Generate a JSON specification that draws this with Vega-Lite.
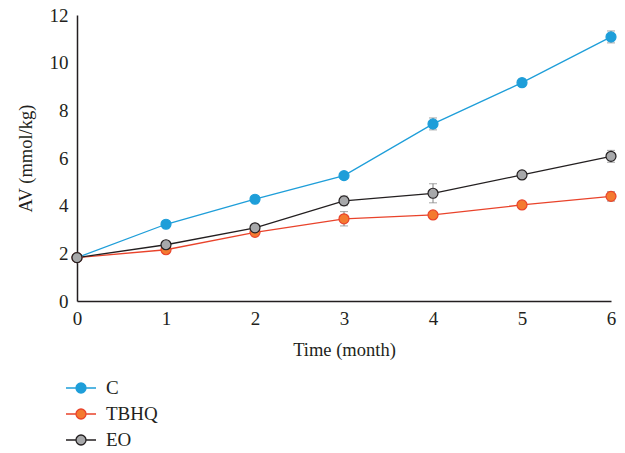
{
  "$schema": "https://vega.github.io/schema/vega-lite/v6.json",
  "width": 534,
  "height": 286,
  "autosize": {"type": "none"},
  "padding": {"left": 77, "top": 15, "right": 14, "bottom": 152},
  "background": "white",
  "config": {
    "view": {"stroke": null},
    "font": "Liberation Serif",
    "axis": {"labelFont": "Liberation Serif", "titleFont": "Liberation Serif", "labelColor": "#231f20", "titleColor": "#231f20", "titleFontWeight": "normal", "domainColor": "#231f20", "domainWidth": 1.5, "grid": false, "ticks": false, "labelFontSize": 19, "titleFontSize": 18.5, "labelFlush": false},
    "legend": {"labelFont": "Liberation Serif", "labelFontSize": 19, "labelColor": "#231f20", "orient": "none", "legendX": -7, "legendY": 362, "padding": 0, "symbolSize": 400, "symbolStrokeWidth": 1.3, "symbolType": "M-1.5,0L-0.5,0M0.5,0L1.5,0M-0.5,0A0.5,0.5 0 1,1 0.5,0A0.5,0.5 0 1,1 -0.5,0Z", "labelOffset": 14, "rowPadding": 5}
  },
  "data": {
    "values": [
      {"month": 0, "series": "C", "av": 1.82, "err": 0.05},
      {"month": 1, "series": "C", "av": 3.22, "err": 0.08},
      {"month": 2, "series": "C", "av": 4.27, "err": 0.08},
      {"month": 3, "series": "C", "av": 5.26, "err": 0.1},
      {"month": 4, "series": "C", "av": 7.43, "err": 0.25},
      {"month": 5, "series": "C", "av": 9.16, "err": 0.15},
      {"month": 6, "series": "C", "av": 11.08, "err": 0.25},
      {"month": 0, "series": "TBHQ", "av": 1.82, "err": 0.05},
      {"month": 1, "series": "TBHQ", "av": 2.15, "err": 0.08},
      {"month": 2, "series": "TBHQ", "av": 2.88, "err": 0.08},
      {"month": 3, "series": "TBHQ", "av": 3.45, "err": 0.3},
      {"month": 4, "series": "TBHQ", "av": 3.61, "err": 0.1},
      {"month": 5, "series": "TBHQ", "av": 4.03, "err": 0.15},
      {"month": 6, "series": "TBHQ", "av": 4.39, "err": 0.2},
      {"month": 0, "series": "EO", "av": 1.82, "err": 0.05},
      {"month": 1, "series": "EO", "av": 2.36, "err": 0.08},
      {"month": 2, "series": "EO", "av": 3.07, "err": 0.08},
      {"month": 3, "series": "EO", "av": 4.2, "err": 0.2},
      {"month": 4, "series": "EO", "av": 4.52, "err": 0.4},
      {"month": 5, "series": "EO", "av": 5.29, "err": 0.1},
      {"month": 6, "series": "EO", "av": 6.07, "err": 0.25}
    ]
  },
  "encoding": {
    "x": {"field": "month", "type": "quantitative", "title": "Time (month)", "scale": {"domain": [0, 6], "nice": false}, "axis": {"values": [0, 1, 2, 3, 4, 5, 6], "labelPadding": 8, "titlePadding": 12}},
    "y": {"field": "av", "type": "quantitative", "title": "AV (mmol/kg)", "scale": {"domain": [0, 12], "nice": false}, "axis": {"values": [0, 2, 4, 6, 8, 10, 12], "labelPadding": 9, "titlePadding": 14}}
  },
  "layer": [
    {
      "mark": {"type": "line", "strokeWidth": 1.3},
      "encoding": {
        "stroke": {"field": "series", "type": "nominal", "scale": {"domain": ["C", "TBHQ", "EO"], "range": ["#1e9ed9", "#e9432b", "#231f20"]}, "legend": {"title": null}},
        "detail": {"field": "series"}
      }
    },
    {
      "mark": {"type": "errorbar", "ticks": {"size": 8, "color": "#808080"}, "rule": {"color": "#808080"}},
      "encoding": {
        "y": {"field": "av", "type": "quantitative"},
        "yError": {"field": "err"},
        "detail": {"field": "series"}
      }
    },
    {
      "mark": {"type": "point", "filled": true, "size": 100, "strokeWidth": 1.2, "opacity": 1},
      "encoding": {
        "stroke": {"field": "series", "type": "nominal", "scale": {"domain": ["C", "TBHQ", "EO"], "range": ["#1e9ed9", "#e9432b", "#231f20"]}, "legend": {"title": null}},
        "fill": {"field": "series", "type": "nominal", "scale": {"domain": ["C", "TBHQ", "EO"], "range": ["#1e9ed9", "#f47a30", "#a7a8aa"]}, "legend": {"title": null}}
      }
    }
  ]
}
